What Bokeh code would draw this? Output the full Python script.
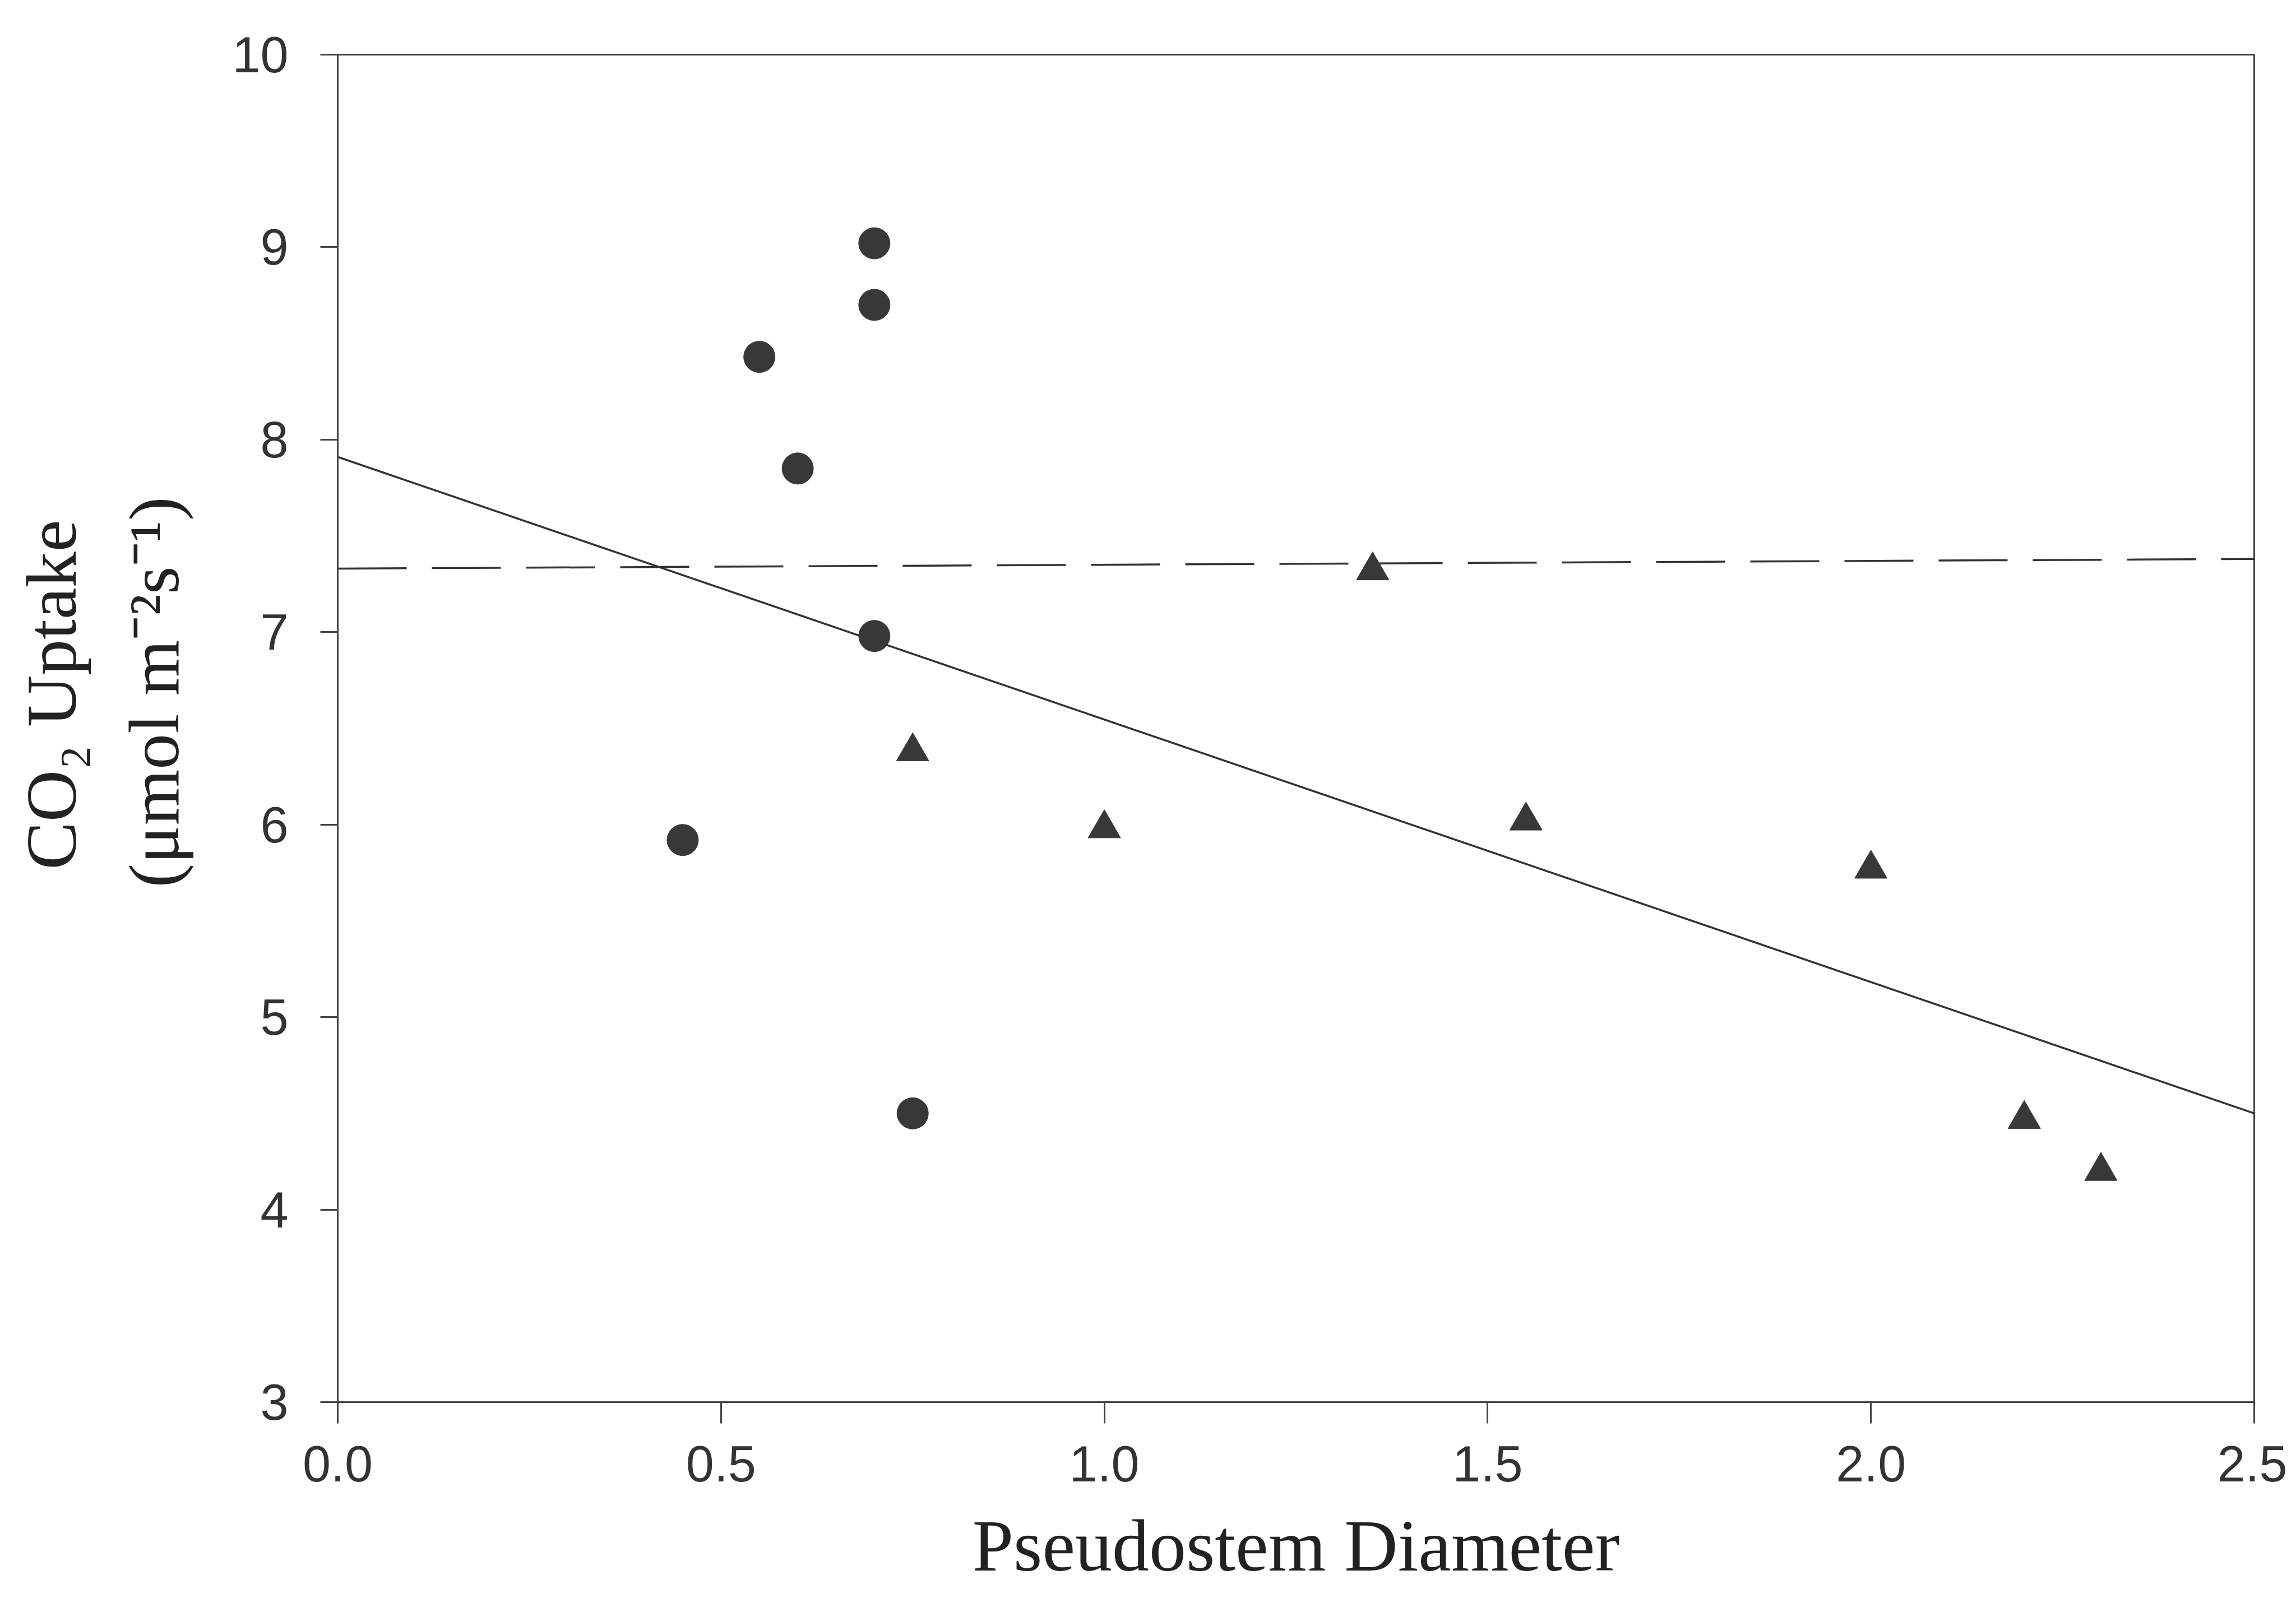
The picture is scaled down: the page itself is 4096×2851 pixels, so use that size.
from bokeh.plotting import figure
from bokeh.models import Range1d, FixedTicker, Title
from bokeh.embed import file_html
from bokeh.resources import INLINE

# ---- data ----
circle_x = [0.45, 0.55, 0.60, 0.70, 0.70, 0.70, 0.75]
circle_y = [5.92, 8.43, 7.85, 9.02, 8.70, 6.98, 4.50]

tri_x = [0.75, 1.00, 1.35, 1.55, 2.00, 2.20, 2.30]
tri_y = [6.38, 5.98, 7.32, 6.02, 5.77, 4.47, 4.20]

fit_x = [0.0, 2.5]
fit_y = [7.91, 4.50]

mean_x = [0.0, 2.5]
mean_y = [7.33, 7.38]

x_ticks = [0.0, 0.5, 1.0, 1.5, 2.0, 2.5]
x_tick_labels = ["0.0", "0.5", "1.0", "1.5", "2.0", "2.5"]
y_ticks = [3, 4, 5, 6, 7, 8, 9, 10]
y_tick_labels = ["3", "4", "5", "6", "7", "8", "9", "10"]

x_title = "Pseudostem Diameter"
y_title_1 = "CO\u2082 Uptake"
y_title_2 = "(\u03bcmol m\u207b\u00b2s\u207b\u00b9)"

INK = "#333333"
AX = "#444444"
TITLE_INK = "#222222"

p = figure(width=4080, height=2843,
           x_range=Range1d(0, 2.5), y_range=Range1d(3, 10),
           output_backend="svg", toolbar_location=None,
           min_border_left=602, min_border_right=59,
           min_border_top=97, min_border_bottom=342)

p.background_fill_color = "white"
p.border_fill_color = "white"
p.outline_line_color = AX
p.outline_line_width = 3
p.grid.visible = False

p.xaxis.ticker = FixedTicker(ticks=x_ticks)
p.xaxis.major_label_overrides = {t: l for t, l in zip(x_ticks, x_tick_labels)}
p.yaxis.ticker = FixedTicker(ticks=y_ticks)
p.yaxis.major_label_overrides = {t: l for t, l in zip(y_ticks, y_tick_labels)}

for ax in (p.xaxis, p.yaxis):
    ax.axis_line_color = AX
    ax.axis_line_width = 3
    ax.major_tick_line_color = AX
    ax.major_tick_line_width = 3
    ax.major_tick_in = 0
    ax.minor_tick_line_color = None
    ax.major_label_text_font = "Liberation Sans"
    ax.major_label_text_font_size = "90px"
    ax.major_label_text_color = INK

p.xaxis.major_tick_out = 38
p.yaxis.major_tick_out = 31
p.xaxis.major_label_standoff = 40
p.yaxis.major_label_standoff = 57

# x-axis title
p.xaxis.axis_label = x_title
p.xaxis.axis_label_text_font = "Liberation Serif"
p.xaxis.axis_label_text_font_size = "132px"
p.xaxis.axis_label_text_font_style = "normal"
p.xaxis.axis_label_text_color = TITLE_INK
p.xaxis.axis_label_standoff = 38

# y-axis title (two lines) placed as a side title, with a thin spacer
spacer = Title(text=" ", text_font_size="2px", standoff=61)
p.add_layout(spacer, "left")
ytitle = Title(text="\u00a0" + y_title_1 + "\n" + y_title_2, align="left",
               offset=918, vertical_align="bottom", standoff=0,
               text_font="Liberation Serif", text_font_size="128px",
               text_font_style="normal", text_line_height=1.29,
               text_color=TITLE_INK)
p.add_layout(ytitle, "left")

# regression line and mean line
p.line(fit_x, fit_y, line_color=INK, line_width=3.5)
p.line(mean_x, mean_y, line_color=INK, line_width=3.5, line_dash="123 45")

# data markers
p.scatter(circle_x, circle_y, marker="circle", size=56,
          fill_color="#383838", line_color="#383838")
p.scatter(tri_x, tri_y, marker="triangle", size=58,
          fill_color="#383838", line_color="#383838")

open("out.html", "w").write(file_html(p, INLINE))
